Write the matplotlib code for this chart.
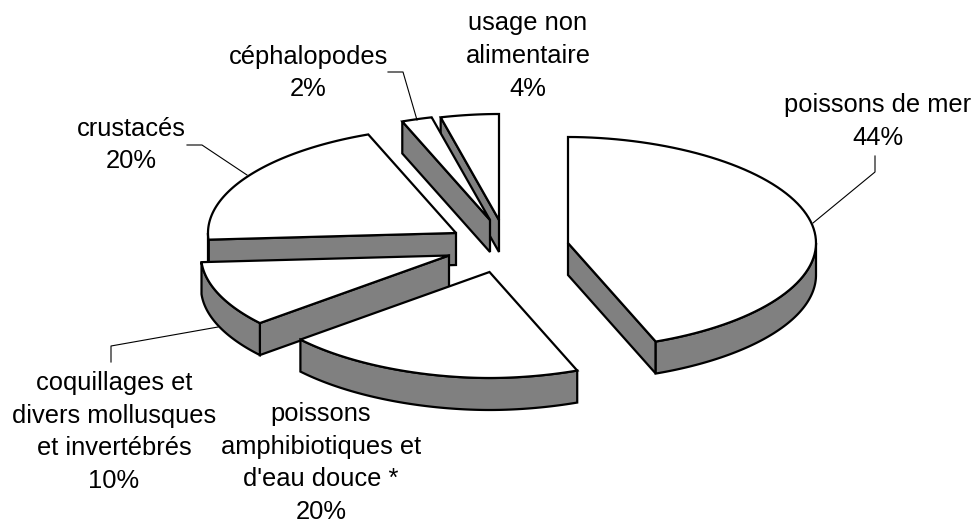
import numpy as np
import matplotlib
matplotlib.use('Agg')
import matplotlib.pyplot as plt
from matplotlib.patches import Polygon

plt.rcParams['font.family'] = ['Liberation Sans', 'DejaVu Sans']

# data, clockwise from 12 o'clock
categories = [
    'poissons de mer',
    "poissons\namphibiotiques et\nd'eau douce *",
    'coquillages et\ndivers mollusques\net invertébrés',
    'crustacés',
    'céphalopodes',
    'usage non\nalimentaire',
]
values = [44, 20, 10, 20, 2, 4]

# where each exploded slice has its centre, in pixels
centres = [(568, 243), (489.5, 272), (449, 255.5), (456, 233), (490, 220), (499, 220)]
rx = 248
ry = 106
depth = 32

label_pos = [(878, 121.5), (321, 463), (114, 432), (131, 145), (308, 73), (528, 56)]
leaders = [
    [(813, 223), (875, 172), (875, 156)],
    None,
    [(218, 327), (111, 346), (111, 362)],
    [(187, 145), (202, 145), (247, 175)],
    [(388, 72), (403, 72), (417, 120)],
    None,
]

W = 975
H = 524
fig = plt.figure(figsize=(W/100, H/100), dpi=100)
ax = fig.add_axes([0, 0, 1, 1])
ax.set_xlim(0, W)
ax.set_ylim(H, 0)
ax.axis('off')

grey = '#808080'
lw = 1.6


def rim(c, a0, a1, n=80):
    t = np.radians(np.linspace(a0, a1, n))
    s = np.sin(t)
    # 1.04: the original's perspective pinches the ellipse a bit near top and bottom
    return np.column_stack((c[0]+rx*np.sign(s)*np.abs(s)**1.04, c[1]-ry*np.cos(t)))


def extrude(pts):
    low = pts+[0, depth]
    return np.vstack((pts, low[::-1]))


ends = np.cumsum(values)*3.6
starts = ends-np.array(values)*3.6

# back slices first so the front ones cover them
for i in range(len(values)-1, -1, -1):
    c = np.array(centres[i], float)
    a0, a1 = starts[i], ends[i]
    arc = rim(c, a0, a1)
    # cut walls, visible only when their outside faces down the picture
    if np.sin(np.radians(a0)) < 0:
        wall = np.vstack((c, arc[0]))
        ax.add_patch(Polygon(extrude(wall), fc=grey, ec='k', lw=lw, joinstyle='miter'))
    if np.sin(np.radians(a1)) > 0:
        wall = np.vstack((c, arc[-1]))
        ax.add_patch(Polygon(extrude(wall), fc=grey, ec='k', lw=lw, joinstyle='miter'))
    # outer side
    lo = max(a0, 90)
    hi = min(a1, 270)
    if lo < hi:
        ax.add_patch(Polygon(extrude(rim(c, lo, hi)), fc=grey, ec='k', lw=lw))
    ax.add_patch(Polygon(np.vstack((c, arc)), fc='white', ec='k', lw=lw, joinstyle='miter'))

for i, name in enumerate(categories):
    ax.text(label_pos[i][0], label_pos[i][1], '{}\n{}%'.format(name, values[i]),
            ha='center', va='center', ma='center', fontsize=18.4, color='k', linespacing=1.46)
    if leaders[i] is not None:
        xs, ys = zip(*leaders[i])
        ax.plot(xs, ys, color='k', lw=0.8)

fig.savefig('out.png', dpi=100)
